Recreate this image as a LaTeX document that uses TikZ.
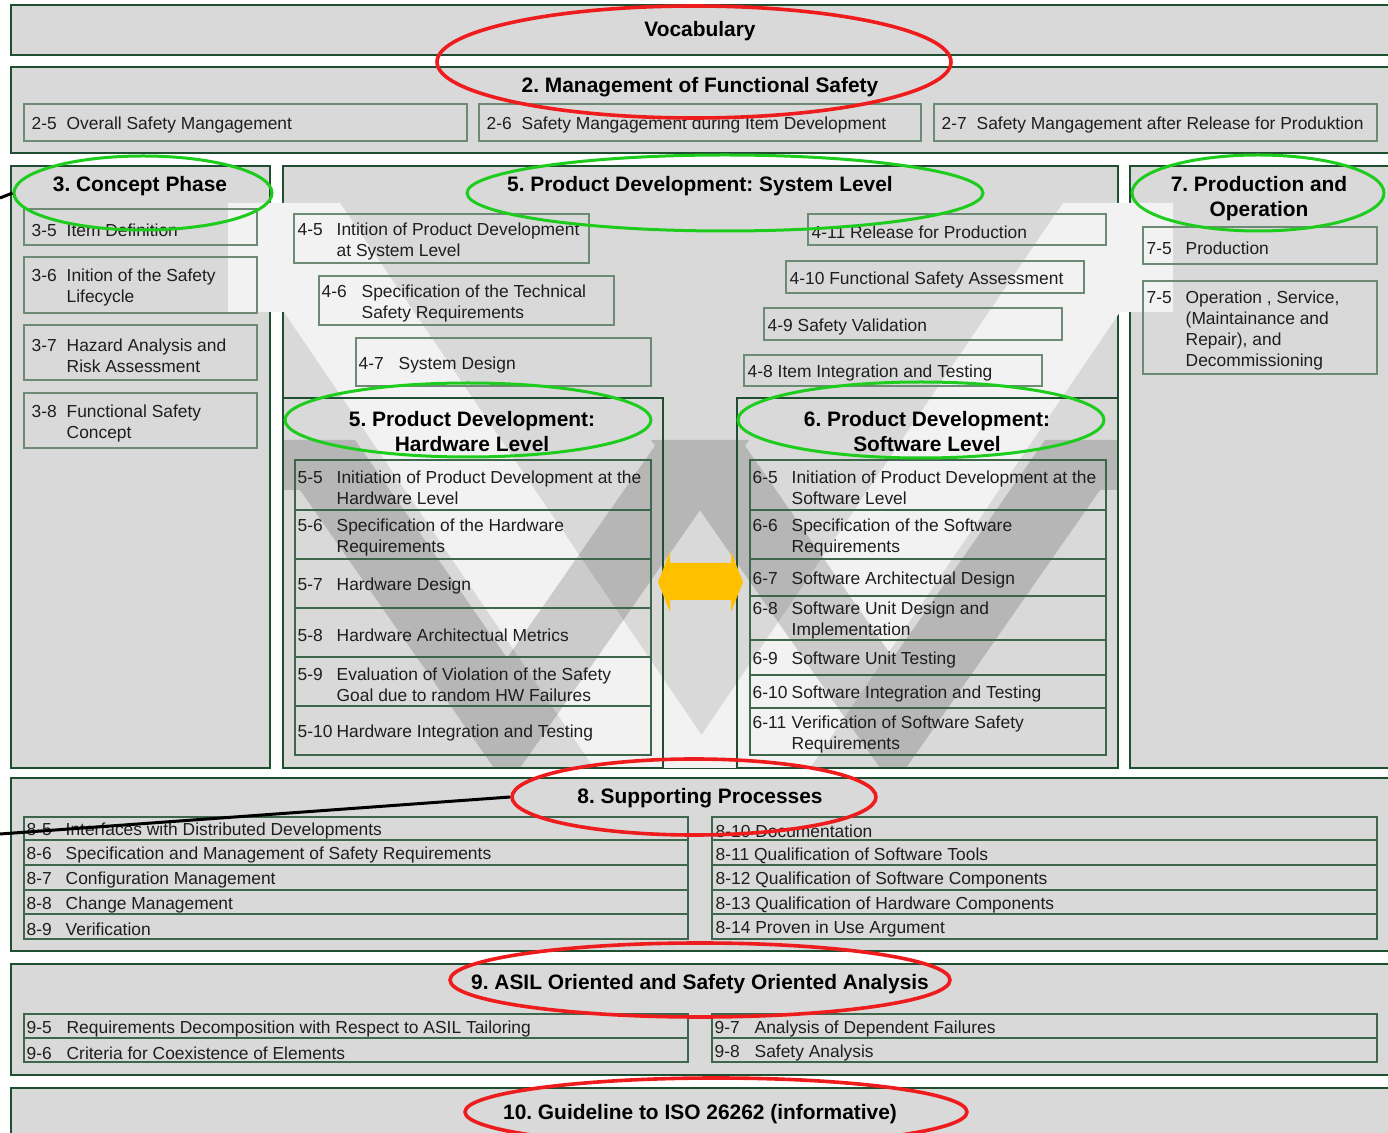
\documentclass[tikz,border=0pt]{standalone}
\usepackage{fontspec}
\setmainfont{Liberation Sans}
\usetikzlibrary{fit,shapes.geometric}

\definecolor{boxfill}{HTML}{D9D9D9}
\definecolor{vlight}{HTML}{F2F2F2}
\definecolor{frame}{RGB}{32,78,48}
\definecolor{itemline}{RGB}{108,138,116}
\definecolor{itemdark}{RGB}{62,102,74}
\definecolor{ringred}{HTML}{EE1C1C}
\definecolor{ringgreen}{HTML}{1ECC1E}
\definecolor{arrowyellow}{HTML}{FFC000}
\definecolor{txt}{HTML}{1E1E1E}

\tikzset{
  outerbox/.style={draw=frame, line width=1.3pt, fill=boxfill, inner sep=0pt},
  frameonly/.style={draw=frame, line width=1.3pt, inner sep=0pt},
  itembox/.style={draw=itemline, line width=0.7pt, inner sep=0pt},
  itemtext/.style={anchor=west, align=left, inner sep=0pt, text=txt, yshift=-1.5pt,
                   font=\fontsize{8.7}{10.5}\selectfont},
  ttl/.style={align=center, inner sep=0pt, text=black, yshift=-1pt,
              font=\bfseries\fontsize{10.45}{12.5}\selectfont},
  redring/.style={ellipse, draw=ringred, line width=1.8pt, inner sep=0pt},
  greenring/.style={ellipse, draw=ringgreen, line width=1.5pt, inner sep=0pt},
  pointer/.style={draw=black, line width=1.5pt},
}

% label column widths
\newlength\colA \setlength\colA{17.5pt}
\newlength\colB \setlength\colB{19.5pt}
\newlength\colC \setlength\colC{20pt}
\newcommand\lbl[2]{\makebox[#1][l]{#2}}

% item box: name, x1, y1, x2, y2, left padding (px), content
\newcommand\itm[7]{%
  \node[itembox, fit={(#2,#3) (#4,#5)}] (#1) {};
  \node[itemtext] (#1-t) at ([xshift=#6*0.5pt]#1.west) {#7};}

\begin{document}
\frenchspacing
\begin{tikzpicture}[x=0.5pt, y=-0.5pt]
\useasboundingbox (0,0) rectangle (1388,1133);
\clip (0,0) rectangle (1388,1133);
\fill[white] (0,0) rectangle (1388,1133);

% ---- part frames ----
\node[outerbox, fit={(11,5) (1400,55)}] (p1) {};
\node[outerbox, fit={(11,67) (1400,153)}] (p2) {};
\node[outerbox, fit={(11,166) (270,768)}] (p3) {};
\node[outerbox, fit={(283,166) (1118,768)}] (p4) {};
\node[outerbox, fit={(1130,166) (1400,768)}] (p7) {};
\node[outerbox, fit={(11,778) (1400,951)}] (p8) {};
\node[outerbox, fit={(11,964) (1400,1075)}] (p9) {};
\node[outerbox, fit={(11,1088) (1400,1145)}] (p10) {};

% ---- V model in the background ----
\fill[vlight] (228,203) -- (340,203) -- (701.5,735) -- (1063,203) -- (1173,203)
  -- (1173,312) -- (1120,312) -- (810,768) -- (594,768) -- (284,312)
  -- (228,312) -- cycle;
\fill[black, opacity=0.16]
  (283,440) -- (355,440) -- (507,658) -- (659,440) -- (749,440) -- (520,768)
  -- (494,768) -- (300,490) -- (283,490) -- cycle
  (1117,490) -- (1100,490) -- (906,768) -- (880,768) -- (651,440) -- (741,440)
  -- (893,658) -- (1045,440) -- (1117,440) -- cycle;

\node[frameonly, fit={(283,398) (663,768)}] (p5) {};
\node[frameonly, fit={(737,398) (1118,768)}] (p6) {};

% ---- part 2 ----
\itm{i25}{24}{104}{467}{141}{8}{\lbl{\colA}{2-5}Overall Safety Mangagement}
\itm{i26}{479}{104}{921}{141}{8}{\lbl{\colA}{2-6}Safety Mangagement during Item Development}
\itm{i27}{934}{104}{1377}{141}{8}{\lbl{\colA}{2-7}Safety Mangagement after Release for Produktion}

% ---- part 3 ----
\itm{i35}{24}{209}{257}{245}{8}{\lbl{\colA}{3-5}Item Definition}
\itm{i36}{24}{257}{257}{313}{8}{\lbl{\colA}{3-6}Inition of the Safety\\\hspace*{\colA}Lifecycle}
\itm{i37}{24}{325}{257}{380}{8}{\lbl{\colA}{3-7}Hazard Analysis and\\\hspace*{\colA}Risk Assessment}
\itm{i38}{24}{393}{257}{448}{8}{\lbl{\colA}{3-8}Functional Safety\\\hspace*{\colA}Concept}

% ---- part 4 ----
\itm{i45}{294}{214}{589}{263}{4}{\lbl{\colB}{4-5}Intition of Product Development\\\hspace*{\colB}at System Level}
\itm{i46}{319}{276}{614}{325}{3}{\lbl{\colC}{4-6}Specification of the Technical\\\hspace*{\colC}Safety Requirements}
\itm{i47}{356}{338}{651}{386}{3}{\lbl{\colC}{4-7}System Design}
\itm{i411}{808}{214}{1106}{245}{4}{4-11 Release for Production}
\itm{i410}{786}{261}{1084}{293}{4}{4-10 Functional Safety Assessment}
\itm{i49}{764}{308}{1062}{340}{4}{4-9 Safety Validation}
\itm{i48}{744}{355}{1042}{386}{4}{4-8 Item Integration and Testing}

% ---- part 7 ----
\itm{i75a}{1143}{227}{1377}{264}{4}{\lbl{\colB}{7-5}Production}
\itm{i75b}{1143}{281}{1377}{374}{4}{\lbl{\colB}{7-5}Operation , Service,\\\hspace*{\colB}(Maintainance and\\\hspace*{\colB}Repair), and\\\hspace*{\colB}Decommissioning}

\begin{scope}[itembox/.style={draw=itemdark, line width=0.7pt, inner sep=0pt}]
% ---- part 5 ----
\itm{i55}{295}{460}{651}{510}{3}{\lbl{\colB}{5-5}Initiation of Product Development at the\\\hspace*{\colB}Hardware Level}
\itm{i56}{295}{510}{651}{559}{3}{\lbl{\colB}{5-6}Specification of the Hardware\\\hspace*{\colB}Requirements}
\itm{i57}{295}{559}{651}{608}{3}{\lbl{\colB}{5-7}Hardware Design}
\itm{i58}{295}{608}{651}{657}{3}{\lbl{\colB}{5-8}Hardware Architectual Metrics}
\itm{i59}{295}{657}{651}{706}{3}{\lbl{\colB}{5-9}Evaluation of Violation of the Safety\\\hspace*{\colB}Goal due to random HW Failures}
\itm{i510}{295}{706}{651}{755}{3}{\lbl{\colB}{5-10}Hardware Integration and Testing}

% ---- part 6 ----
\itm{i65}{750}{460}{1106}{510}{3}{\lbl{\colB}{6-5}Initiation of Product Development at the\\\hspace*{\colB}Software Level}
\itm{i66}{750}{510}{1106}{559}{3}{\lbl{\colB}{6-6}Specification of the Software\\\hspace*{\colB}Requirements}
\itm{i67}{750}{559}{1106}{596}{3}{\lbl{\colB}{6-7}Software Architectual Design}
\itm{i68}{750}{596}{1106}{640}{3}{\lbl{\colB}{6-8}Software Unit Design and\\\hspace*{\colB}Implementation}
\itm{i69}{750}{640}{1106}{675}{3}{\lbl{\colB}{6-9}Software Unit Testing}
\itm{i610}{750}{675}{1106}{708}{3}{\lbl{\colB}{6-10}Software Integration and Testing}
\itm{i611}{750}{708}{1106}{755}{3}{\lbl{\colB}{6-11}Verification of Software Safety\\\hspace*{\colB}Requirements}

% ---- part 8 ----
\itm{i85}{24}{817}{688}{840}{3}{\lbl{\colB}{8-5}Interfaces with Distributed Developments}
\itm{i86}{24}{840}{688}{865}{3}{\lbl{\colB}{8-6}Specification and Management of Safety Requirements}
\itm{i87}{24}{865}{688}{890}{3}{\lbl{\colB}{8-7}Configuration Management}
\itm{i88}{24}{890}{688}{914}{3}{\lbl{\colB}{8-8}Change Management}
\itm{i89}{24}{914}{688}{939}{3}{\lbl{\colB}{8-9}Verification}
\itm{i810}{712}{817}{1377}{840}{4}{8-10 Documentation}
\itm{i811}{712}{840}{1377}{865}{4}{8-11 Qualification of Software Tools}
\itm{i812}{712}{865}{1377}{890}{4}{8-12 Qualification of Software Components}
\itm{i813}{712}{890}{1377}{914}{4}{8-13 Qualification of Hardware Components}
\itm{i814}{712}{914}{1377}{939}{4}{8-14 Proven in Use Argument}

% ---- part 9 ----
\itm{i95}{24}{1014}{688}{1038}{3}{\lbl{\colC}{9-5}Requirements Decomposition with Respect to ASIL Tailoring}
\itm{i96}{24}{1038}{688}{1062}{3}{\lbl{\colC}{9-6}Criteria for Coexistence of Elements}
\itm{i97}{712}{1014}{1377}{1038}{3}{\lbl{\colC}{9-7}Analysis of Dependent Failures}
\itm{i98}{712}{1038}{1377}{1062}{3}{\lbl{\colC}{9-8}Safety Analysis}
\end{scope}

% ---- part titles ----
\node[ttl] (t1) at (700,29) {Vocabulary};
\node[ttl] (t2) at (700,85) {2. Management of Functional Safety};
\node[ttl] (t3) at (140,184) {3. Concept Phase};
\node[ttl] (t4) at (700,184) {5. Product Development: System Level};
\node[ttl] (t7) at (1259,196.5) {7. Production and\\Operation};
\node[ttl] (t5) at (472,429.5) {5. Product Development:\\Hardware Level};
\node[ttl] (t6) at (927,429.5) {6. Product Development:\\Software Level};
\node[ttl] (t8) at (700,796) {8. Supporting Processes};
\node[ttl] (t9) at (700,982) {9. ASIL Oriented and Safety Oriented Analysis};
\node[ttl] (t10) at (700,1112) {10. Guideline to ISO 26262 (informative)};

% ---- hardware / software interface arrow ----
\fill[arrowyellow] (658,582) -- (670,552) -- (670,563) -- (731,563) -- (731,552)
  -- (743,582) -- (731,612) -- (731,600) -- (670,600) -- (670,612) -- cycle;

% ---- highlight rings ----
\node[redring, minimum width=257pt, minimum height=56pt] (r2) at (694,62) {};
\node[redring, minimum width=182pt, minimum height=38pt] (r8) at (694,797) {};
\node[redring, minimum width=250pt, minimum height=37pt] (r9) at (700,980) {};
\node[redring, minimum width=251pt, minimum height=34pt] (r10) at (716,1112) {};
\node[greenring, minimum width=129pt, minimum height=37pt] (g3) at (143,193) {};
\node[greenring, minimum width=258pt, minimum height=38pt] (g4) at (725,193) {};
\node[greenring, minimum width=126pt, minimum height=38pt] (g7) at (1258,193) {};
\node[greenring, minimum width=183pt, minimum height=37pt] (g5) at (468,420) {};
\node[greenring, minimum width=183pt, minimum height=38pt] (g6) at (921,420) {};

% ---- pointers leaving the page ----
\coordinate (c3) at (0,198);
\coordinate (c8) at (0,834);
\draw[pointer] (c3) -- (g3.west);
\draw[pointer] (c8) -- (r8.west);
\end{tikzpicture}
\end{document}
